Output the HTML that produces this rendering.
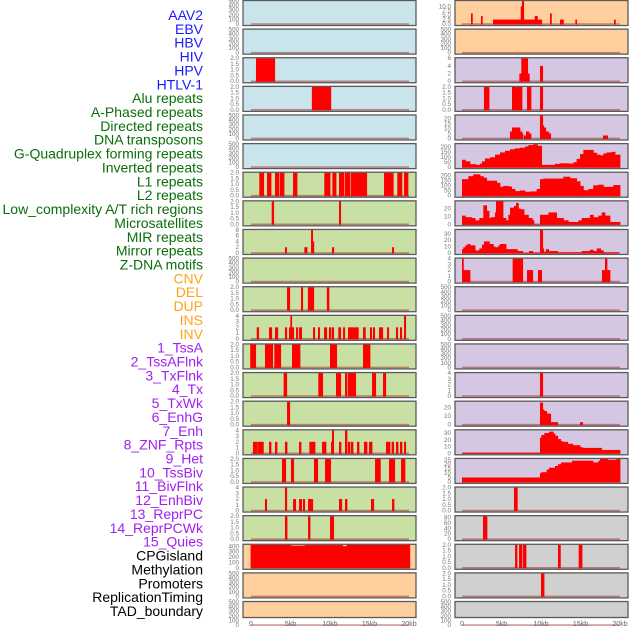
<!DOCTYPE html>
<html><head><meta charset="utf-8">
<style>
html,body{margin:0;padding:0;background:#fff;}
svg{display:block;font-family:"Liberation Sans",sans-serif;}
</style></head>
<body>
<svg id="chart" width="630" height="630" viewBox="0 0 630 630" xmlns="http://www.w3.org/2000/svg"></svg>
<script>
// ---------- data ----------
const trackLabels = ["AAV2","EBV","HBV","HIV","HPV","HTLV-1","Alu repeats","A-Phased repeats","Directed repeats","DNA transposons","G-Quadruplex forming repeats","Inverted repeats","L1 repeats","L2 repeats","Low_complexity A/T rich regions","Microsatellites","MIR repeats","Mirror repeats","Z-DNA motifs","CNV","DEL","DUP","INS","INV","1_TssA","2_TssAFlnk","3_TxFlnk","4_Tx","5_TxWk","6_EnhG","7_Enh","8_ZNF_Rpts","9_Het","10_TssBiv","11_BivFlnk","12_EnhBiv","13_ReprPC","14_ReprPCWk","15_Quies","CPGisland","Methylation","Promoters","ReplicationTiming","TAD_boundary"];
const labelGroups = [6,13,5,15,5];
const xTickValues = [0,5,10,15,20];
const xTickLabels = ["0","5kb","10kb","15kb","20kb"];

const leftBg = ["#c9e4ea","#c9e4ea","#c9e4ea","#c9e4ea","#c9e4ea","#c9e4ea","#c8e0a4","#c8e0a4","#c8e0a4","#c8e0a4","#c8e0a4","#c8e0a4","#c8e0a4","#c8e0a4","#c8e0a4","#c8e0a4","#c8e0a4","#c8e0a4","#c8e0a4","#ffd09e","#ffd09e","#ffd09e"];
const rightBg = ["#ffd09e","#ffd09e","#d5c6e2","#d5c6e2","#d5c6e2","#d5c6e2","#d5c6e2","#d5c6e2","#d5c6e2","#d5c6e2","#d5c6e2","#d5c6e2","#d5c6e2","#d5c6e2","#d5c6e2","#d5c6e2","#d5c6e2","#d0d0d0","#d0d0d0","#d0d0d0","#d0d0d0","#d0d0d0"];

const leftYMax = [500,500,2,2,500,500,2,2,8,500,2,4,2,2,2,4,2,4,2,430,500,500];
const rightYMax = [13,500,6,2,23,229,225,29,36,4,500,500,500,4,27,34,26,2,85,2,2,500];

const ticks500 = [0,100,200,300,400,500];
const ticks2 = [0,0.5,1,1.5,2];
const ticks4 = [0,1,2,3,4];
const leftTicks = [ticks500,ticks500,ticks2,ticks2,ticks500,ticks500,ticks2,ticks2,[0,2,4,6,8],ticks500,ticks2,ticks4,ticks2,ticks2,ticks2,ticks4,ticks2,ticks4,ticks2,[0,100,200,300,400],ticks500,ticks500];
const rightTicks = [[0,2.5,5,7.5,10],ticks500,[0,2,4,6],ticks2,[0,5,10,15,20],[0,50,100,150,200],[0,50,100,150,200],[0,10,20],[0,10,20,30],ticks4,ticks500,ticks500,ticks500,ticks4,[0,10,20],[0,10,20,30],[0,5,10,15,20,25],ticks2,[0,20,40,60,80],ticks2,ticks2,ticks500];
const leftDec = [0,0,1,1,0,0,1,1,0,0,1,0,1,1,1,0,1,0,1,0,0,0];
const rightDec = [1,0,0,1,0,0,0,0,0,0,0,0,0,0,0,0,0,1,0,1,1,0];

// segments [start_kb, end_kb, value]
const L3 = [[0.63,3.0,2]];
const L4 = [[7.7,10.1,2]];
const L7 = [[1.05,1.6,2],[2.03,2.53,2],[3.04,3.54,2],[3.67,4.18,2],[5.32,5.82,2],[9.28,10.0,2],[10.3,10.76,2],[11.14,11.77,2],[11.9,12.53,2],[12.66,14.64,2],[16.84,18.0,2],[18.52,19.1,2],[19.37,19.87,2]];
const L8 = [[2.62,2.87,2],[11.14,11.35,2]];
const L9 = [[4.3,4.5,2],[6.75,7.1,2],[7.6,7.8,8],[7.75,7.95,4],[10.25,10.47,2],[17.85,18.06,2]];
const L11 = [[4.56,4.9,2],[6.33,6.54,2],[7.2,7.94,2],[9.6,9.87,2]];
const L12 = [[0.72,0.97,2],[2.28,2.62,2],[3.04,3.38,2],[4.3,4.52,2],[4.81,5.4,2],[4.98,5.15,4],[5.7,5.91,2],[6.08,6.41,2],[7.85,8.06,2],[8.48,8.69,2],[9.24,9.58,2],[9.87,10.13,2],[10.25,10.46,2],[11.05,11.35,2],[11.65,11.86,2],[12.28,13.58,2],[14.18,14.47,2],[15.06,15.27,2],[15.44,15.65,2],[16.2,16.67,2],[17.22,17.43,2],[18.35,18.57,2],[18.86,19.07,2],[19.37,19.58,4]];
const L13 = [[-0.1,0.59,2],[1.77,2.74,2],[2.95,3.76,2],[5.19,6.2,2],[10.0,10.84,2],[14.18,15.06,2]];
const L14 = [[4.13,4.52,2],[8.52,9.07,2],[10.76,11.35,2],[11.9,12.15,2],[12.28,13.25,2],[15.32,15.78,2],[16.71,17.05,2]];
const L15 = [[4.56,4.9,2]];
const L16 = [[0.25,0.76,2],[0.84,1.56,2],[2.28,2.53,2],[3.04,3.29,2],[4.3,4.56,2],[6.08,6.33,2],[7.38,8.1,2],[8.99,9.49,2],[10.13,10.46,2],[10.25,10.46,4],[11.14,11.39,2],[11.9,12.15,4],[12.28,12.53,2],[12.66,12.91,2],[13.42,13.67,2],[14.3,14.68,2],[14.94,15.32,2],[17.09,17.59,2],[17.8,18.06,2],[18.35,18.61,2],[18.86,19.11,2],[19.37,19.58,2]];
const L17 = [[3.92,4.39,2],[5.06,5.4,2],[7.97,8.44,2],[9.37,10.08,2],[15.7,16.37,2],[17.47,18.19,2],[18.99,19.49,2]];
const L18 = [[1.77,1.98,2],[4.3,4.52,4],[5.32,5.65,2],[6.08,6.41,2],[6.58,6.79,2],[7.22,7.81,2],[11.14,11.48,2],[11.9,12.15,2],[15.19,15.53,2],[17.85,18.1,2]];
const L19 = [[4.3,4.56,2],[7.22,7.47,2],[10.0,10.46,2]];
const L20 = [[-0.05,5.05,430],[5.05,6.8,415],[6.8,11.6,425],[11.6,12.1,405],[12.1,20.1,430]];

const R1 = [[1.14,1.31,6],[2.4,2.57,4.5],[3.92,10.08,2.5],[7.43,7.59,10],[7.59,7.81,13],[9.2,9.54,4.5],[11.14,11.31,6],[12.4,12.83,2.5],[14.35,14.51,2.5],[19.24,19.41,2.5]];
const R3 = [[7.26,7.51,2],[7.51,8.31,6],[8.31,8.52,2],[9.87,10.21,4]];
const R4 = [[2.78,3.42,2],[6.33,7.59,2],[8.23,8.73,2],[9.87,10.21,2]];
const R5 = [[6.08,6.33,7],[6.33,7.34,11],[7.34,7.59,7],[7.59,7.72,5],[7.85,8.1,3],[8.1,8.48,7],[8.48,8.73,5],[9.87,10.21,23],[10.21,10.34,13],[10.34,10.59,11],[10.59,10.97,7],[10.97,11.22,5],[17.85,18.44,3]];
const R10 = [[0,0.17,4],[0.17,1.01,2],[6.41,7.68,4],[8.23,8.95,2],[9.62,10.08,2],[17.72,18.1,2],[18.1,18.35,4],[18.35,18.73,2]];
const R14 = [[9.87,10.21,4]];
const R15 = [[9.87,10.21,26],[10.21,10.38,18],[10.38,10.72,16],[10.72,11.22,13],[11.22,12.11,3],[14.94,15.27,3]];
const R18 = [[6.58,7.0,2]];
const R19 = [[2.66,3.16,85]];
const R20 = [[6.71,6.96,2],[7.22,7.59,2],[7.72,8.1,2],[12.15,12.45,2],[14.77,15.19,2]];
const R21 = [[10.0,10.38,2]];

// step profiles: breakpoints (kb) + values per interval
const R6Breaks = [0,0.42,1.01,1.77,2.28,2.53,2.91,3.54,4.18,4.81,5.44,6.08,6.71,7.34,7.97,8.4,9.03,9.54,10.08,11.77,12.4,13.46,14.09,14.51,14.94,15.36,16.62,17.05,17.47,17.89,18.31,18.95,19.37,20.0];
const R6Values = [73,57,29,22,35,57,86,98,124,146,162,178,187,193,206,219,228,212,22,32,38,35,48,82,130,171,143,124,117,136,146,152,124];
const R7Breaks = [0,0.8,1.43,2.28,2.7,3.12,4.39,4.81,5.23,5.86,6.29,6.71,7.34,7.97,8.61,9.45,9.87,10.3,12.83,13.67,14.51,14.94,15.36,15.99,16.62,17.26,17.89,19.16,20];
const R7Values = [162,191,209,191,176,147,126,87,96,90,66,45,51,39,42,66,162,168,186,171,141,96,54,66,102,108,87,105];
const R8Breaks = [0,0.42,1.22,1.65,2.19,2.7,3.12,3.42,3.67,4.18,4.3,5.19,5.57,5.86,6.08,6.58,6.84,7.13,7.34,7.85,8.4,8.9,9.11,9.87,10.93,11.98,12.83,13.46,14.73,15.15,16.2,16.62,17.26,17.68,18.1,18.73,20];
const R8Values = [11,9,8,5,8,24,17,8,9,15,29,8,5,12,21,23,27,20,19,12,8,5,0,12,15,8,5,3,5,8,12,9,11,15,11,3];
const R9Breaks = [0,0.17,0.42,0.68,1.01,1.65,2.19,2.53,2.78,3.46,3.97,4.18,4.6,4.81,5.57,7.0,7.68,8.48,8.95,9.87,10.21,10.34,10.63,10.97,11.48,12.11,15.15,16.2,16.62,17.05,17.55,17.89,19.79];
const R9Values = [6,9,12,14,12,4,7,13,18,14,10,9,12,14,6,3,0,3,0.5,36,7,2,6,3,3,1,3,5,3,7,4,1];
const R16Breaks = [0,9.87,10.04,10.42,11.01,11.22,11.56,11.77,12.11,12.49,12.7,13.38,14.01,14.94,15.27,17.68,20];
const R16Values = [1,23,27,30,32,32,29,26,21,18,17,14,12,9,8,5];
const R17Breaks = [0,9.87,10.04,10.72,11.01,11.77,12.15,12.53,13.92,16.58,17.26,17.47,18.44,19.58,20];
const R17Values = [5,10,11,14,16,18,20,22,24,22,24,26,25,26];

const leftSegs = [[],[],L3,L4,[],[],L7,L8,L9,[],L11,L12,L13,L14,L15,L16,L17,L18,L19,L20,[],[]];
const rightSegs = [R1,[],R3,R4,R5,null,null,null,null,R10,[],[],[],R14,R15,null,null,R18,R19,R20,R21,[]];
const rightSteps = {5:[R6Breaks,R6Values],6:[R7Breaks,R7Values],7:[R8Breaks,R8Values],8:[R9Breaks,R9Values],15:[R16Breaks,R16Values],16:[R17Breaks,R17Values]};

// ---------- drawing ----------
const NS = "http://www.w3.org/2000/svg";
const svg = document.getElementById("chart");
function mk(tag, attrs, parent){
  const e = document.createElementNS(NS, tag);
  for (const k in attrs) e.setAttribute(k, attrs[k]);
  (parent||svg).appendChild(e);
  return e;
}
const PITCH = 28.62, PH = 25;
const cols = [{x0:243, x1:416, z:251}, {x0:455, x1:628, z:462}];
const KB = 7.9;
function xScale(c, kb){ return cols[c].z + kb*KB; }
function yScale(top, v, ymax){ return top + 24 - Math.min(v, ymax)/ymax*23; }

// labels
const groupColors = ["#1a1aff","#0a6e0a","#ffa31a","#a020f0","#000000"];
let gi = 0, gc = 0;
trackLabels.forEach((t,i)=>{
  const tx = mk("text",{x:203, y:15 + i*13.86 + 5, "text-anchor":"end", "font-size":"14", fill:groupColors[gi]});
  tx.textContent = t;
  
  
  gc++; if (gc >= labelGroups[gi]) { gi++; gc = 0; }
});

function fmt(v, dec){ return dec ? v.toFixed(1) : String(v); }

for (let c=0;c<2;c++){
  for (let p=0;p<22;p++){
    const top = p*PITCH;
    const h = (p===21) ? 16 : PH;
    const g = mk("g",{});
    
    
    const bg = c===0 ? leftBg[p] : rightBg[p];
    mk("rect",{x:cols[c].x0, y:top+0.5, width:cols[c].x1-cols[c].x0, height:h, fill:bg}, g);
    const ymax = c===0 ? leftYMax[p] : rightYMax[p];
    mk("line",{x1:xScale(c,0), x2:xScale(c,20), y1:top+24, y2:top+24, stroke:"rgba(150,20,20,0.45)", "stroke-width":"1.6"}, g);
    const segs = c===0 ? leftSegs[p] : rightSegs[p];
    if (segs){
      segs.forEach(s=>{
        const y = yScale(top, s[2], ymax);
        const r = mk("rect",{x:xScale(c,s[0]), y:y, width:Math.max(1.2, (s[1]-s[0])*KB+0.4), height:top+24.5-y, fill:"#ff0000"}, g);
        
        
      });
    } else {
      const st = rightSteps[p];
      const br = st[0], vals = st[1];
      for (let i=0;i<vals.length;i++){
        const y = yScale(top, vals[i], ymax);
        const r = mk("rect",{x:xScale(c,br[i]), y:y, width:(br[i+1]-br[i])*KB+0.4, height:top+24.5-y, fill:"#ff0000"}, g);
        
        
      }
    }
    mk("rect",{x:cols[c].x0, y:top+0.5, width:cols[c].x1-cols[c].x0, height:h, fill:"none", stroke:"#5a5a5a", "stroke-width":"1.3"}, g);
    const tk = c===0 ? leftTicks[p] : rightTicks[p];
    const dec = c===0 ? leftDec[p] : rightDec[p];
    tk.forEach(v=>{
      const ty = mk("text",{x:cols[c].x0-4, y:yScale(top,v,ymax)+2, "text-anchor":"end", "font-size":"6.3", fill:"#777"}, g);
      ty.textContent = fmt(v, dec);
      
      
    });
  }
  xTickValues.forEach((v,i)=>{
    const t = mk("text",{x:xScale(c,v), y:626, "text-anchor":"middle", "font-size":"7", fill:"#666"});
    t.textContent = xTickLabels[i];
    
    
  });
}
</script>
</body></html>
